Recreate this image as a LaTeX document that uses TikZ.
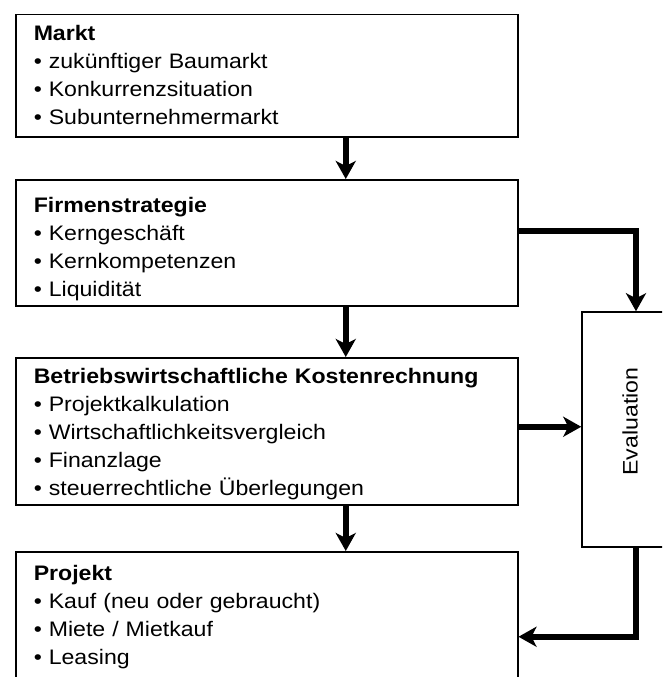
\documentclass[tikz,border=0pt]{standalone}
\usepackage{fontspec}
\setmainfont{Liberation Sans}[FakeStretch=1.1]
\usepackage{tikz}
\usetikzlibrary{arrows.meta,positioning,calc}
\tikzset{
  kasten/.style={
    rectangle, draw=black, line width=1.5pt,
    minimum width=502pt, text width=466pt,
    inner xsep=18pt, inner ysep=0pt, anchor=north west,
    align=left, font=\fontsize{21}{28}\selectfont
  },
  evalbox/.style={
    rectangle, draw=black, line width=1.5pt,
    minimum width=96pt, minimum height=235pt,
    inner sep=0pt, font=\fontsize{21}{28}\selectfont
  },
  pfeil/.style={
    -{Stealth[length=18pt, width=20pt, inset=5pt]}, line width=6pt
  },
}

\begin{document}
\begin{tikzpicture}[x=1pt, y=-1pt]
  \useasboundingbox (0,0) rectangle (662,677);
  \clip (0,0) rectangle (662,677);

  % Kaesten links
  \node[kasten] (markt) at (15,14)
    {\rule{0pt}{26pt}\textbf{Markt}\\
     \textbullet\ zukünftiger Baumarkt\\
     \textbullet\ Konkurrenzsituation\\
     \textbullet\ Subunternehmermarkt\rule[-12pt]{0pt}{12pt}};
  \node[kasten] (firma) at (15,179)
    {\rule{0pt}{33pt}\textbf{Firmenstrategie}\\
     \textbullet\ Kerngeschäft\\
     \textbullet\ Kernkompetenzen\\
     \textbullet\ Liquidität\rule[-9pt]{0pt}{9pt}};
  \node[kasten] (bwl) at (15,357)
    {\rule{0pt}{26pt}\textbf{Betriebswirtschaftliche Kostenrechnung}\\
     \textbullet\ Projektkalkulation\\
     \textbullet\ Wirtschaftlichkeitsvergleich\\
     \textbullet\ Finanzlage\\
     \textbullet\ steuerrechtliche Überlegungen\rule[-9pt]{0pt}{9pt}};
  \node[kasten] (projekt) at (15,551)
    {\rule{0pt}{29pt}\textbf{Projekt}\\
     \textbullet\ Kauf (neu oder gebraucht)\\
     \textbullet\ Miete / Mietkauf\\
     \textbullet\ Leasing\rule[-57pt]{0pt}{57pt}};

  % Evaluation rechts
  \node[evalbox] (eval) at (630,429.5) {\rotatebox{90}{\hspace{16pt}Evaluation}};

  % Pfeile nach unten
  \draw[pfeil] ([xshift=79pt]markt.south) -- ([xshift=79pt]markt.south |- firma.north);
  \draw[pfeil] ([xshift=79pt]firma.south) -- ([xshift=79pt]firma.south |- bwl.north);
  \draw[pfeil] ([xshift=79pt]bwl.south) -- ([xshift=79pt]bwl.south |- projekt.north);

  % Pfeile ueber Evaluation
  \draw[pfeil] ([yshift=12pt]firma.east) -| ([xshift=6pt]eval.north);
  \draw[pfeil] ([yshift=4.5pt]bwl.east) -- ([yshift=4.5pt]bwl.east -| eval.west);
  \draw[pfeil] ([xshift=6pt]eval.south) |- (projekt.east);
\end{tikzpicture}
\end{document}
